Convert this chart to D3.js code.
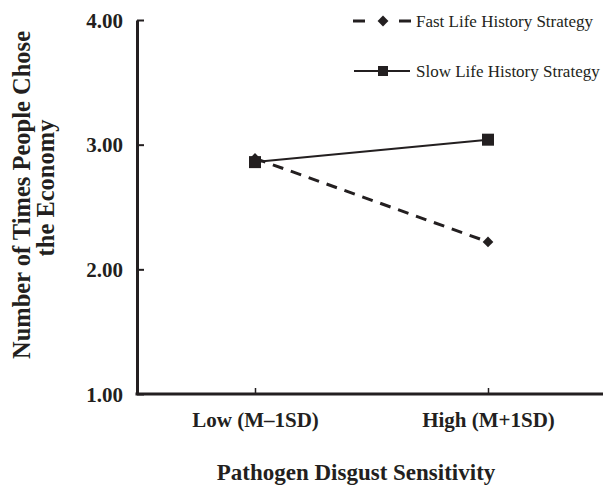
<!DOCTYPE html>
<html>
<head>
<meta charset="utf-8">
<script src="https://cdn.jsdelivr.net/npm/d3@7"></script>
<style>
  body { margin: 0; background: #fff; }
  text { font-family: "Liberation Serif", "Times New Roman", serif; fill: #231f20; }
</style>
</head>
<body>
<div id="chart"></div>
<script>
var categories = ["Low (M\u20131SD)", "High (M+1SD)"];
var fastValues = [2.89, 2.22];
var slowValues = [2.86, 3.04];
var yTicks = [1, 2, 3, 4];
var seriesNames = ["Fast Life History Strategy", "Slow Life History Strategy"];

var width = 603, height = 485;
var margin = { top: 20, right: 0, left: 137, bottom: 91 };

var svg = d3.select("#chart").append("svg")
  .attr("width", width)
  .attr("height", height);

var ink = "#231f20";

// x positions of the two categories, measured off the axis
var x = d3.scalePoint().domain(categories).range([255, 488]);
var y = d3.scaleLinear().domain([1, 4]).range([height - margin.bottom, margin.top]);

// y axis
var yAxis = svg.append("g")
  .attr("transform", "translate(" + margin.left + ",0)")
  .call(d3.axisLeft(y).tickValues(yTicks).tickFormat(d3.format(".2f")).tickSize(6).tickSizeOuter(0));
yAxis.select(".domain").attr("stroke", ink).attr("stroke-width", 3);
yAxis.selectAll(".tick line").attr("stroke", ink).attr("stroke-width", 2).attr("x2", 7).attr("x1", 0);
yAxis.selectAll(".tick text")
  .attr("x", -14)
  .attr("dy", "0.34em")
  .style("font-size", "21px")
  .style("font-weight", "bold")
  .style("font-family", "Liberation Serif, serif")
  .attr("fill", ink);

// x axis line (runs to the right edge)
var y0 = y(1);
svg.append("line")
  .attr("x1", margin.left - 1.5).attr("x2", width)
  .attr("y1", y0).attr("y2", y0)
  .attr("stroke", ink).attr("stroke-width", 3);

var xAxis = svg.append("g")
  .attr("transform", "translate(0," + y0 + ")")
  .call(d3.axisBottom(x).tickSize(0).tickSizeOuter(0));
xAxis.select(".domain").remove();
xAxis.selectAll(".tick").append("line")
  .attr("y1", 0).attr("y2", -6)
  .attr("stroke", ink).attr("stroke-width", 1.5);
xAxis.selectAll(".tick text")
  .attr("y", 33)
  .attr("dy", 0)
  .style("font-size", "21px")
  .style("font-weight", "bold")
  .style("font-family", "Liberation Serif, serif")
  .attr("fill", ink);

// axis titles
svg.append("text")
  .attr("x", 356).attr("y", 480)
  .attr("text-anchor", "middle")
  .style("font-size", "23px").style("font-weight", "bold")
  .text("Pathogen Disgust Sensitivity");

var yTitle = svg.append("text")
  .attr("transform", "translate(30,195) rotate(-90)")
  .attr("text-anchor", "middle")
  .style("font-size", "24.5px").style("font-weight", "bold");
yTitle.append("tspan").attr("x", 0).attr("y", 0).text("Number of Times People Chose");
yTitle.append("tspan").attr("x", 7).attr("y", 24).text("the Economy");

// lines
var fastPts = categories.map(function(c, i) { return { cat: c, v: fastValues[i] }; });
var slowPts = categories.map(function(c, i) { return { cat: c, v: slowValues[i] }; });

var line = d3.line()
  .x(function(d) { return x(d.cat); })
  .y(function(d) { return y(d.v); });

var diamond = d3.symbol().type(d3.symbolDiamond2).size(72);

svg.append("path").datum(fastPts)
  .attr("d", line)
  .attr("fill", "none").attr("stroke", ink)
  .attr("stroke-width", 3).attr("stroke-dasharray", "11,8");

svg.selectAll(".fast-pt").data(fastPts).enter().append("path")
  .attr("class", "fast-pt")
  .attr("d", diamond)
  .attr("transform", function(d) { return "translate(" + x(d.cat) + "," + y(d.v) + ")"; })
  .attr("fill", ink);

svg.append("path").datum(slowPts)
  .attr("d", line)
  .attr("fill", "none").attr("stroke", ink)
  .attr("stroke-width", 2);

svg.selectAll(".slow-pt").data(slowPts).enter().append("rect")
  .attr("class", "slow-pt")
  .attr("x", function(d) { return x(d.cat) - 6; })
  .attr("y", function(d) { return y(d.v) - 6; })
  .attr("width", 12).attr("height", 12)
  .attr("fill", ink);

// legend
var legend = svg.append("g");
var lf = legend.append("g").attr("transform", "translate(0,21)");
lf.append("line").attr("x1", 353).attr("x2", 411).attr("y1", 0).attr("y2", 0)
  .attr("stroke", ink).attr("stroke-width", 3).attr("stroke-dasharray", "12,34");
lf.append("path").attr("d", d3.symbol().type(d3.symbolDiamond2).size(75))
  .attr("transform", "translate(383,0)").attr("fill", ink);
lf.append("text").attr("x", 416).attr("y", 6).style("font-size", "17px").text(seriesNames[0]);

var ls = legend.append("g").attr("transform", "translate(0,71)");
ls.append("line").attr("x1", 354).attr("x2", 410).attr("y1", 0).attr("y2", 0)
  .attr("stroke", ink).attr("stroke-width", 2);
ls.append("rect").attr("x", 378).attr("y", -5).attr("width", 10).attr("height", 10).attr("fill", ink);
ls.append("text").attr("x", 416).attr("y", 6).style("font-size", "17px").text(seriesNames[1]);
</script>
</body>
</html>
